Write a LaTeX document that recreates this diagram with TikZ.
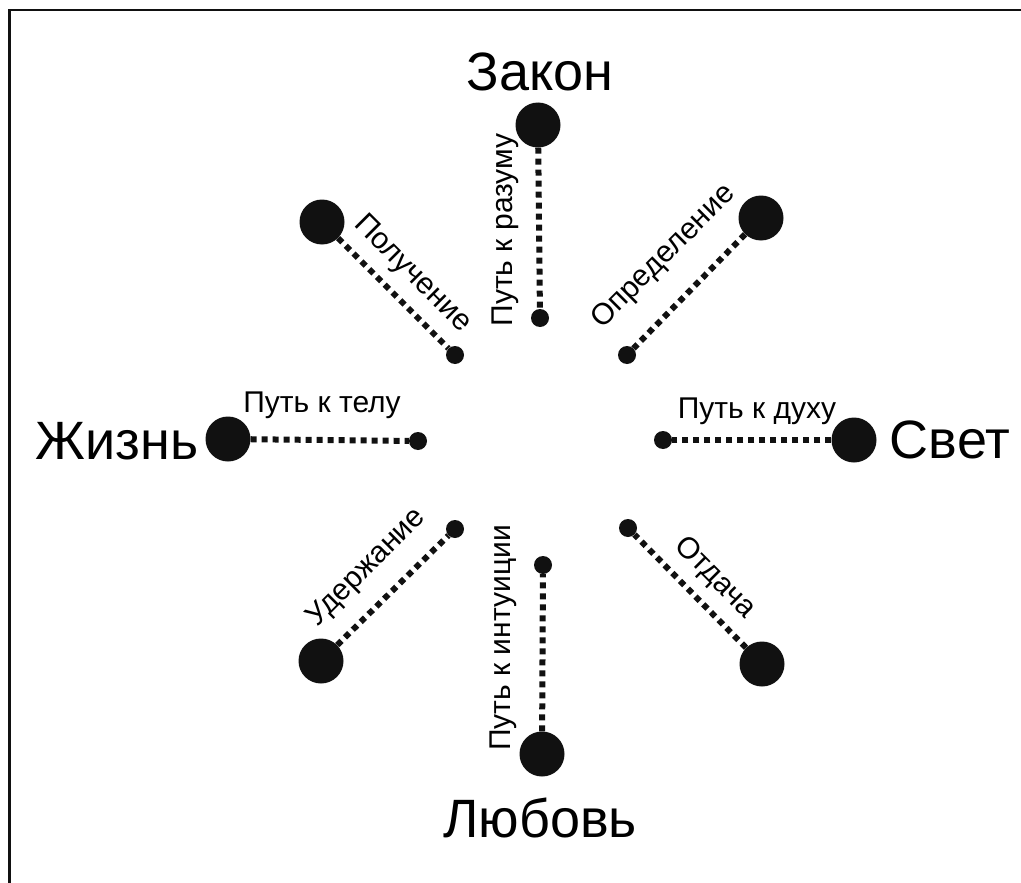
\documentclass[tikz,border=0pt]{standalone}
\usepackage{fontspec}
\setmainfont{Liberation Sans}
\usepackage{tikz}
\usetikzlibrary{positioning}
\definecolor{ink}{HTML}{111111}

\begin{document}
\begin{tikzpicture}[
  x=1pt, y=-1pt,
  bigdot/.style={circle, fill=ink, inner sep=0pt, minimum size=45pt},
  smalldot/.style={circle, fill=ink, inner sep=0pt, minimum size=18pt},
  trail/.style={ink, line width=6pt, dash pattern=on 6pt off 5pt},
  word/.style={inner sep=0pt, font=\fontsize{54}{60}\selectfont},
  lbl/.style={inner sep=0pt, font=\fontsize{30}{34}\selectfont}
]
\useasboundingbox (0,0) rectangle (1021,883);
\draw[ink, line width=2.5pt] (9.5,883) -- (9.5,10) -- (1021,10);

% top
\node[bigdot] (zakon) at (538,125) {};
\node[smalldot] (zakonin) at (540,318) {};
\node[word] (zakonw) at (540,72) {Закон};
\node[lbl, rotate=90] (razum) at (505,230) {Путь к разуму};

% upper left and upper right
\node[bigdot] (poluch) at (322,222) {};
\node[smalldot] (poluchin) at (455,355) {};
\node[lbl, rotate=-45] (poluchl) at (412,274) {Получение};
\node[bigdot] (opred) at (761,218) {};
\node[smalldot] (opredin) at (627,355) {};
\node[lbl, rotate=45] (opredl) at (664,257) {Определение};

% left and right
\node[bigdot] (zhizn) at (228,439) {};
\node[smalldot] (zhiznin) at (418,441) {};
\node[word] (zhiznw) at (117,441) {Жизнь};
\node[lbl] (telo) at (322,405) {Путь к телу};
\node[bigdot] (svet) at (854,440) {};
\node[smalldot] (svetin) at (663,440) {};
\node[word] (svetw) at (950,440) {Свет};
\node[lbl] (dukh) at (757,411) {Путь к духу};

% lower left and lower right
\node[bigdot] (uderzh) at (321,661) {};
\node[smalldot] (uderzhin) at (455,529) {};
\node[lbl, rotate=45] (uderzhl) at (367,568) {Удержание};
\node[bigdot] (otdacha) at (762,664) {};
\node[smalldot] (otdachain) at (628,528) {};
\node[lbl, rotate=-45] (otdachal) at (715,578) {Отдача};

% bottom
\node[bigdot] (lyubov) at (542,754) {};
\node[smalldot] (lyubovin) at (543,565) {};
\node[word] (lyubovw) at (540,818) {Любовь};
\node[lbl, rotate=90] (intuit) at (503,638) {Путь к интуиции};

\draw[trail] (zakon) -- (zakonin);
\draw[trail] (poluch) -- (poluchin);
\draw[trail] (opred) -- (opredin);
\draw[trail] (zhizn) -- (zhiznin);
\draw[trail] (svet) -- (svetin);
\draw[trail] (uderzh) -- (uderzhin);
\draw[trail] (otdacha) -- (otdachain);
\draw[trail] (lyubov) -- (lyubovin);
\end{tikzpicture}
\end{document}
